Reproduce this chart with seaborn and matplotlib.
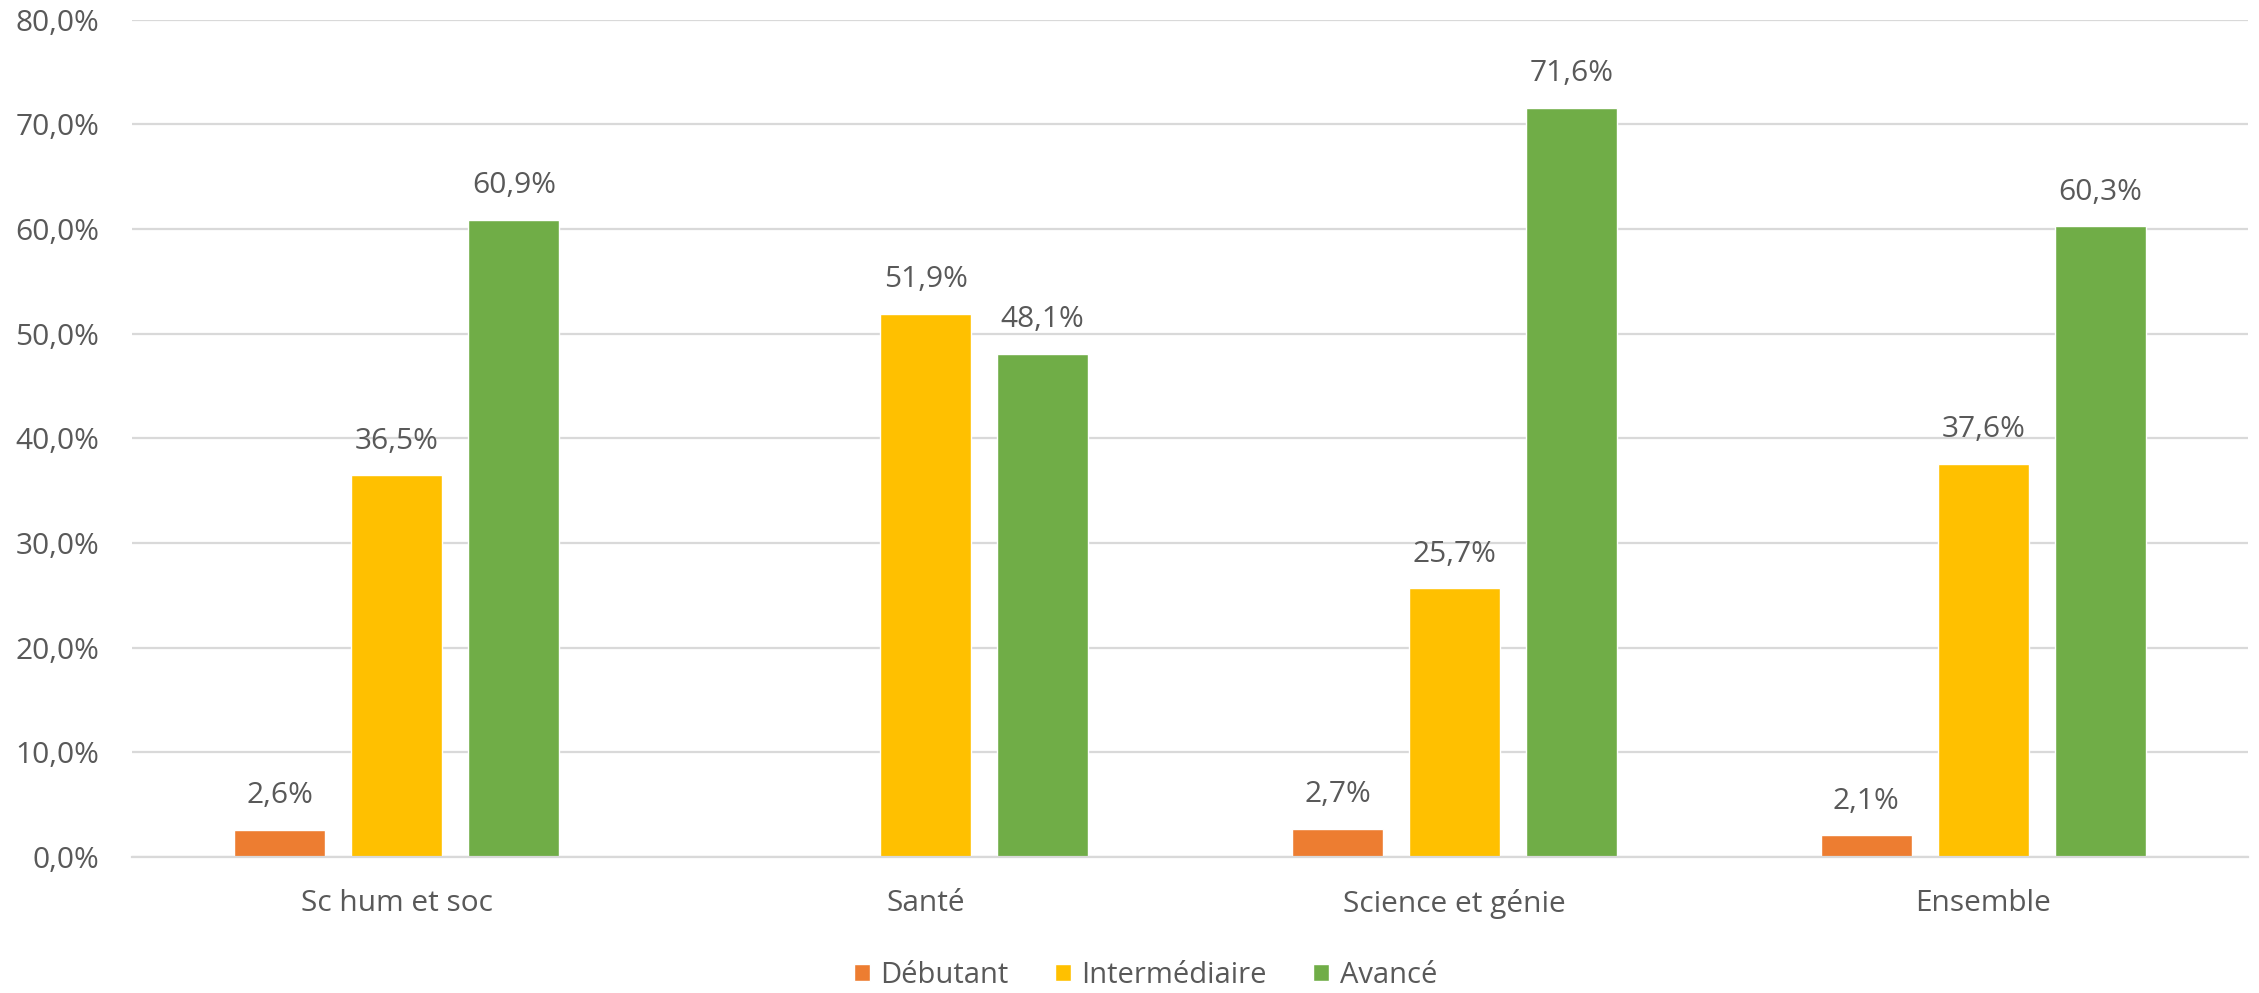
import numpy as np
import pandas as pd
import matplotlib.pyplot as plt
import seaborn as sns
from matplotlib.patches import Patch

sns.set_theme(style="white")
plt.rcParams["font.family"] = ["Open Sans", "DejaVu Sans"]

# données
categories = ["Sc hum et soc", "Santé", "Science et génie", "Ensemble"]
niveaux = ["Débutant", "Intermédiaire", "Avancé"]
debutant = [2.6, np.nan, 2.7, 2.1]
intermediaire = [36.5, 51.9, 25.7, 37.6]
avance = [60.9, 48.1, 71.6, 60.3]
couleurs = ["#ED7D31", "#FFC000", "#70AD47"]

df = pd.DataFrame({
    "categorie": categories * 3,
    "niveau": [n for n in niveaux for _ in categories],
    "valeur": debutant + intermediaire + avance,
})

gris = "#595959"
fig = plt.figure(figsize=(22.59, 9.93), dpi=100)
ax = fig.add_axes([0.0586, 0.137, 0.9364, 0.843])

sns.barplot(data=df, x="categorie", y="valeur", hue="niveau", order=categories,
            hue_order=niveaux, palette=couleurs, width=0.664, gap=0.22,
            saturation=1, ax=ax, legend=False)

# étiquettes de valeurs : la barre manquante est absente du conteneur,
# donc on retrouve la catégorie à partir de la position x de chaque barre
for cont, serie in zip(ax.containers, [debutant, intermediaire, avance]):
    for barre in cont:
        if barre is None:
            continue
        xc = barre.get_x() + barre.get_width() / 2
        v = serie[int(round(xc))]
        if np.isnan(v):
            continue
        ax.annotate(f"{v:.1f}%".replace(".", ","), (xc, barre.get_height()),
                    xytext=(0, 14), textcoords="offset points",
                    ha="center", va="bottom", fontsize=21.5, color=gris)

ax.set_ylim(0, 80)
ax.set_yticks(range(0, 81, 10))
ax.set_yticklabels([f"{t},0%" for t in range(0, 81, 10)])
ax.set_xlim(-0.5, len(categories) - 0.5)
ax.yaxis.grid(True, color="#D9D9D9", linewidth=1.6)
ax.set_axisbelow(True)
for s in ["top", "right", "left"]:
    ax.spines[s].set_visible(False)
ax.spines["bottom"].set_color("#D9D9D9")
ax.spines["bottom"].set_linewidth(1.6)
ax.tick_params(axis="y", length=0, pad=24, labelsize=21.5, labelcolor=gris)
ax.tick_params(axis="x", length=0, pad=23, labelsize=21.5, labelcolor=gris)
ax.set_xlabel("")
ax.set_ylabel("")

poignees = [Patch(facecolor=c, label=n) for c, n in zip(couleurs, niveaux)]
fig.legend(handles=poignees, loc="center", bbox_to_anchor=(0.507, 0.018), ncol=3,
           frameon=False, fontsize=21, labelcolor=gris, handlelength=0.55,
           handleheight=0.55, handletextpad=0.35, columnspacing=1.6)

fig.savefig("out.png", dpi=100)
